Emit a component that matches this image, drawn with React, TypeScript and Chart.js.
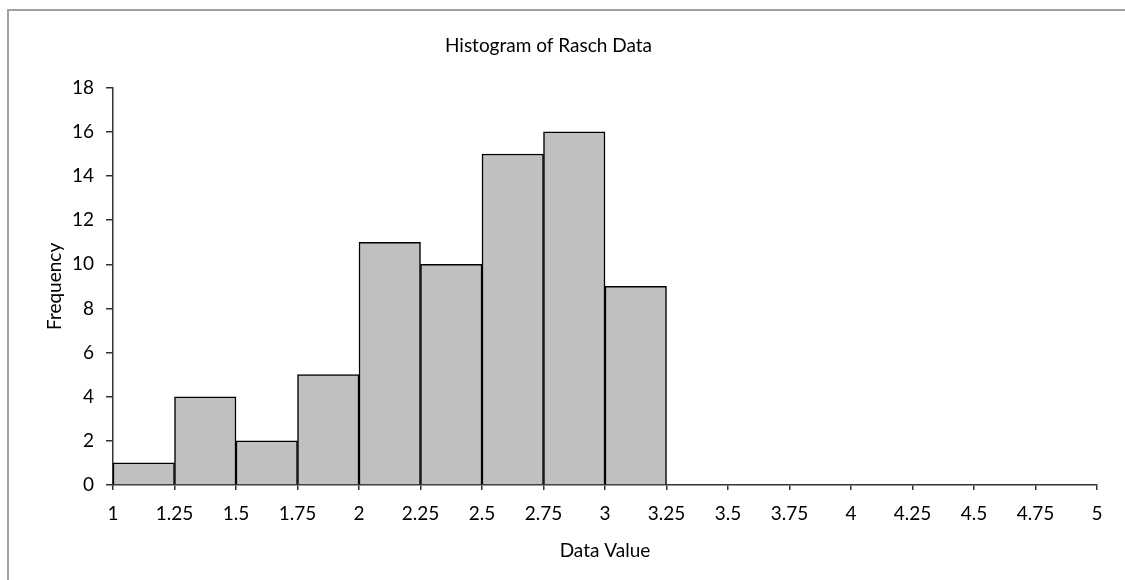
import React, { useEffect, useRef } from "react";
import { Chart, registerables } from "chart.js";

Chart.register(...registerables);

const binStarts = [1, 1.25, 1.5, 1.75, 2, 2.25, 2.5, 2.75, 3, 3.25, 3.5, 3.75, 4, 4.25, 4.5, 4.75];
const binWidth = 0.25;
const frequencies = [1, 4, 2, 5, 11, 10, 15, 16, 9, 0, 0, 0, 0, 0, 0, 0];
const xTickValues = [1, 1.25, 1.5, 1.75, 2, 2.25, 2.5, 2.75, 3, 3.25, 3.5, 3.75, 4, 4.25, 4.5, 4.75, 5];
const yTickValues = [0, 2, 4, 6, 8, 10, 12, 14, 16, 18];

const FONT = "Lato";
const FS = 19;

export default function App() {
  const ref = useRef<HTMLCanvasElement | null>(null);
  useEffect(() => {
    if (!ref.current) return;
    const data = binStarts.map((s, i) => ({ x: s + binWidth / 2, y: frequencies[i] }));
    const chart = new Chart(ref.current, {
      type: "bar",
      data: {
        datasets: [
          {
            data,
            backgroundColor: "#c0c0c0",
            borderColor: "#000000",
            borderWidth: 1.5,
            borderSkipped: "bottom",
            barPercentage: 1,
            categoryPercentage: 1,
          },
        ],
      },
      options: {
        animation: false,
        responsive: false,
        layout: { padding: { left: 0, right: 28, top: 0, bottom: 0 } },
        plugins: {
          legend: { display: false },
          tooltip: { enabled: false },
          title: {
            display: true,
            text: "Histogram of Rasch Data",
            color: "#000",
            font: { family: FONT, size: FS, weight: "normal" },
            padding: { top: 34, bottom: 31 },
          },
        },
        scales: {
          x: {
            type: "linear",
            min: 1,
            max: 5,
            offset: false,
            afterBuildTicks: (scale: any) => {
              scale.ticks = xTickValues.map((v) => ({ value: v }));
            },
            afterFit: (scale: any) => {
              scale.height = 95;
            },
            ticks: {
              color: "#000",
              font: { family: FONT, size: FS },
              padding: 12,
              maxRotation: 0,
              autoSkip: false,
              callback: (v: any) => String(v),
            },
            grid: {
              display: true,
              offset: false,
              drawOnChartArea: false,
              drawTicks: true,
              tickLength: 5,
              color: "#333",
              lineWidth: 1.5,
            },
            border: { display: true, color: "#333", width: 1.5 },
            title: {
              display: true,
              text: "Data Value",
              color: "#000",
              font: { family: FONT, size: FS },
              padding: { top: 0, bottom: 18 },
            },
          },
          y: {
            min: 0,
            max: 18,
            afterBuildTicks: (scale: any) => {
              scale.ticks = yTickValues.map((v) => ({ value: v }));
            },
            afterFit: (scale: any) => {
              scale.width = 113;
            },
            ticks: {
              color: "#000",
              font: { family: FONT, size: FS },
              padding: 12,
            },
            grid: {
              display: true,
              offset: false,
              drawOnChartArea: false,
              drawTicks: true,
              tickLength: 7,
              color: "#333",
              lineWidth: 1.5,
            },
            border: { display: true, color: "#333", width: 1.5 },
            title: {
              display: true,
              text: "Frequency",
              color: "#000",
              font: { family: FONT, size: FS },
              padding: { top: 43, bottom: 0 },
            },
          },
        },
      },
    });
    return () => chart.destroy();
  }, []);

  return (
    <div style={{ position: "fixed", left: 0, top: 0, width: 1125, height: 580, background: "#fff" }}>
      <canvas ref={ref} width={1125} height={580} style={{ position: "absolute", left: 0, top: 0 }} />
      <div
        style={{
          position: "absolute",
          left: 7,
          top: 9,
          width: 1200,
          height: 700,
          borderTop: "2px solid #a0a0a0",
          borderLeft: "2px solid #a0a0a0",
          boxSizing: "border-box",
          pointerEvents: "none",
        }}
      />
    </div>
  );
}
